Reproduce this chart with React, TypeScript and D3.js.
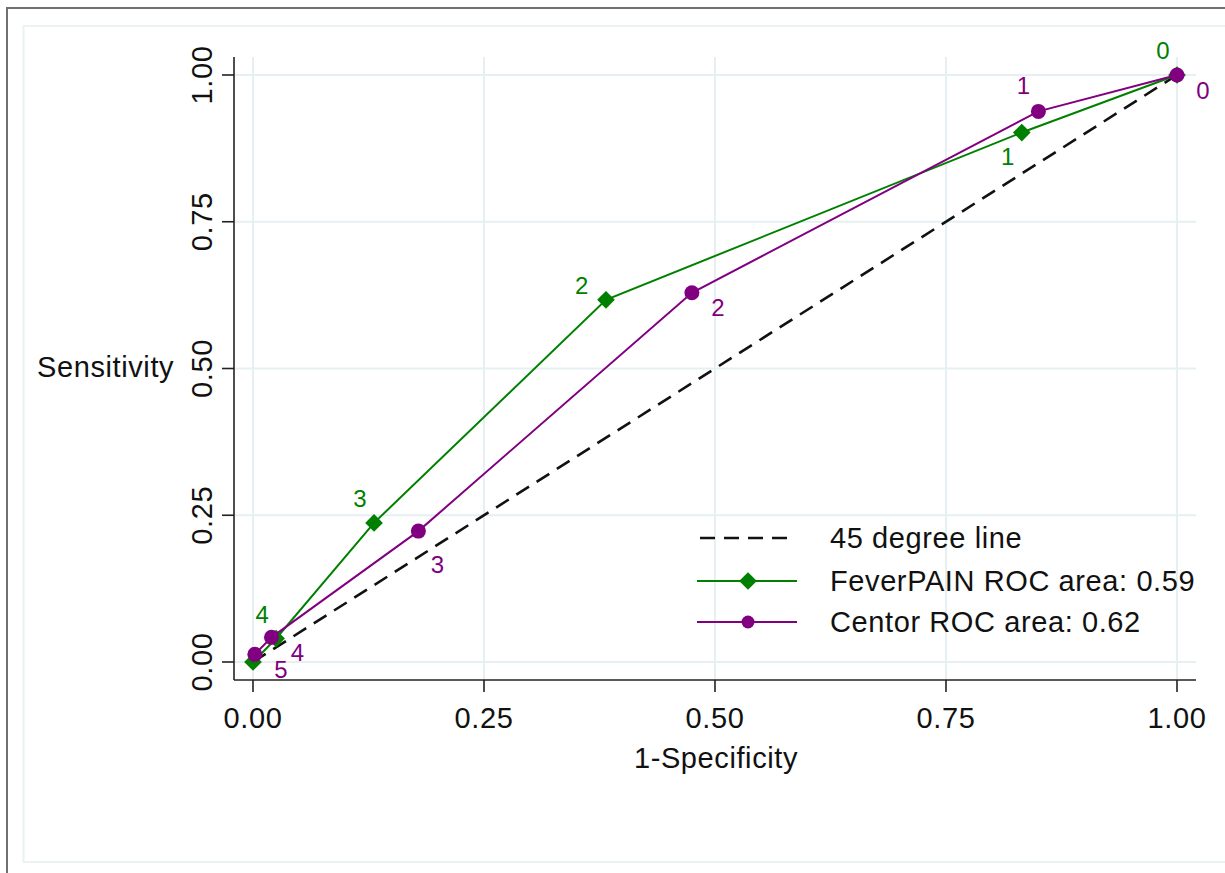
import React from "react";
import * as d3 from "d3";

// ROC points (1-specificity, sensitivity), one per cutoff score
const feverX = [1, 0.832, 0.382, 0.131, 0.025, 0];
const feverY = [1, 0.902, 0.617, 0.237, 0.040, 0];
const feverLabels = ["0", "1", "2", "3", "4", ""];

const centorX = [1, 0.85, 0.475, 0.179, 0.02, 0.002, 0];
const centorY = [1, 0.938, 0.629, 0.223, 0.042, 0.013, 0];
const centorLabels = ["0", "1", "2", "3", "4", "5", ""];

// label placement as clock positions (like stata mlabvpos)
const feverClock = [11, 7, 10, 11, 11, 0];
const centorClock = [4, 11, 4, 5, 4, 4, 0];

const ticks = [0, 0.25, 0.5, 0.75, 1];
const legendNames = ["45 degree line", "FeverPAIN ROC area: 0.59", "Centor ROC area: 0.62"];

const GREEN = "#008000";
const PURPLE = "#800080";
const GRID = "#e6eff1";
const FONT = "'Liberation Sans', Arial, Helvetica, sans-serif";

export default function App() {
  const x = d3.scaleLinear().domain([0, 1]).range([253, 1177]);
  const y = d3.scaleLinear().domain([0, 1]).range([662, 75]);

  const line = d3.line<[number, number]>()
    .x((d) => x(d[0]))
    .y((d) => y(d[1]));

  const fever: [number, number][] = feverX.map((v, i) => [v, feverY[i]]);
  const centor: [number, number][] = centorX.map((v, i) => [v, centorY[i]]);

  const diamond = d3.symbol().type(d3.symbolDiamond2).size(200)();

  const labelPos = (px: number, py: number, clock: number, r: number) => {
    const a = (clock * 30 * Math.PI) / 180;
    return [px + r * Math.sin(a), py - r * Math.cos(a)];
  };

  const axisLeft = 234, axisBottom = 680, axisRight = 1196, axisTop = 57;
  const big = { fontSize: 29, letterSpacing: 0.6 };

  return (
    <div style={{ position: "absolute", left: 0, top: 0 }}>
      <svg width={1225} height={873} style={{ display: "block", background: "#fff" }} fontFamily={FONT}>
        {/* outer frame */}
        <line x1={7} x2={7} y1={7} y2={873} stroke="#707070" strokeWidth={2} />
        <line x1={7} x2={1225} y1={8} y2={8} stroke="#707070" strokeWidth={2} />
        <rect x={23.5} y={26} width={1300} height={836} fill="none" stroke="#eaf2f4" strokeWidth={2} />

        {/* grid */}
        {ticks.map((t) => (
          <line key={"gx" + t} x1={x(t)} x2={x(t)} y1={axisTop} y2={axisBottom} stroke={GRID} strokeWidth={2} />
        ))}
        {ticks.map((t) => (
          <line key={"gy" + t} x1={axisLeft} x2={axisRight} y1={y(t)} y2={y(t)} stroke={GRID} strokeWidth={2} />
        ))}

        {/* axes */}
        <line x1={axisLeft} x2={axisLeft} y1={axisTop} y2={axisBottom} stroke="#222" strokeWidth={1.6} />
        <line x1={axisLeft} x2={axisRight} y1={axisBottom} y2={axisBottom} stroke="#222" strokeWidth={1.6} />
        {ticks.map((t) => (
          <g key={"ty" + t}>
            <line x1={axisLeft - 12} x2={axisLeft} y1={y(t)} y2={y(t)} stroke="#222" strokeWidth={1.6} />
            <text
              transform={`translate(212,${y(t)}) rotate(-90)`}
              textAnchor="middle"
              {...big}
              fill="#111"
            >
              {t.toFixed(2)}
            </text>
          </g>
        ))}
        {ticks.map((t) => (
          <g key={"tx" + t}>
            <line x1={x(t)} x2={x(t)} y1={axisBottom} y2={axisBottom + 12} stroke="#222" strokeWidth={1.6} />
            <text x={x(t)} y={728} textAnchor="middle" {...big} fill="#111">
              {t.toFixed(2)}
            </text>
          </g>
        ))}
        <text x={37} y={377} {...big} fill="#111">Sensitivity</text>
        <text x={716} y={768} textAnchor="middle" {...big} fill="#111">1-Specificity</text>

        {/* reference line */}
        <path d={line([[0, 0], [1, 1]]) ?? ""} stroke="#111" strokeWidth={2.6} strokeDasharray="15 9" fill="none" />

        {/* FeverPAIN */}
        <path d={line(fever) ?? ""} stroke={GREEN} strokeWidth={2} fill="none" />
        {fever.map((d, i) => (
          <path key={"fm" + i} d={diamond ?? ""} transform={`translate(${x(d[0])},${y(d[1])})`} fill={GREEN} />
        ))}
        {fever.map((d, i) => {
          const [lx, ly] = labelPos(x(d[0]), y(d[1]), feverClock[i], 28);
          return (
            <text key={"fl" + i} x={lx} y={ly} textAnchor="middle" dominantBaseline="central" fontSize={24} fill={GREEN}>
              {feverLabels[i]}
            </text>
          );
        })}

        {/* Centor */}
        <path d={line(centor) ?? ""} stroke={PURPLE} strokeWidth={2} fill="none" />
        {centor.map((d, i) =>
          centorLabels[i] === "" ? null : (
            <circle key={"cm" + i} cx={x(d[0])} cy={y(d[1])} r={7.5} fill={PURPLE} />
          )
        )}
        {centor.map((d, i) => {
          const [lx, ly] = labelPos(x(d[0]), y(d[1]), centorClock[i], centorClock[i] === 5 ? 38 : 30);
          return (
            <text key={"cl" + i} x={lx} y={ly} textAnchor="middle" dominantBaseline="central" fontSize={24} fill={PURPLE}>
              {centorLabels[i]}
            </text>
          );
        })}

        {/* legend */}
        <g>
          <line x1={700} x2={792} y1={538} y2={538} stroke="#111" strokeWidth={2.6} strokeDasharray="15 9" />
          <text x={830} y={548} {...big} fill="#111">{legendNames[0]}</text>

          <line x1={697} x2={797} y1={581} y2={581} stroke={GREEN} strokeWidth={2} />
          <path d={diamond ?? ""} transform="translate(748,581)" fill={GREEN} />
          <text x={830} y={591} {...big} fill="#111">{legendNames[1]}</text>

          <line x1={697} x2={797} y1={622} y2={622} stroke={PURPLE} strokeWidth={2} />
          <circle cx={748} cy={622} r={6.5} fill={PURPLE} />
          <text x={830} y={632} {...big} fill="#111">{legendNames[2]}</text>
        </g>
      </svg>
    </div>
  );
}
